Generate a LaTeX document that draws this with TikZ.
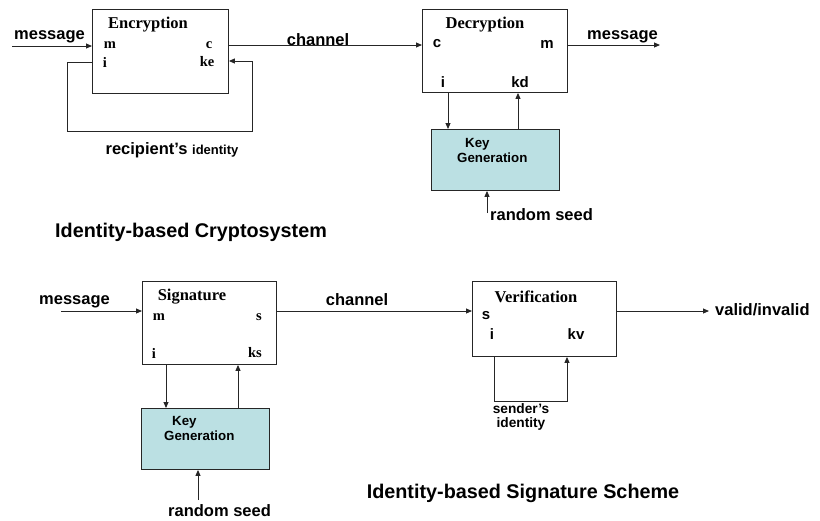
\documentclass[tikz,border=0pt]{standalone}
\usepackage{fontspec}
\setmainfont{Liberation Serif}
\setsansfont{Liberation Sans}
\usetikzlibrary{arrows.meta}
\definecolor{kgfill}{HTML}{BBE0E3}
\begin{document}
\begin{tikzpicture}[x=1pt,y=-1pt,
  ln/.style={draw=black!85,line width=0.9pt},
  arr/.style={ln,-{Triangle[length=6pt,width=5pt]}},
  blk/.style={ln,fill=white,inner sep=0pt,anchor=north west},
  kgbox/.style={ln,fill=kgfill,inner sep=0pt,anchor=north west},
  ttl/.style={font=\fontsize{16.5}{18}\selectfont\bfseries\rmfamily,inner sep=0pt},
  sv/.style={font=\fontsize{14.5}{15}\selectfont\bfseries\rmfamily,inner sep=0pt},
  ss/.style={font=\fontsize{15}{16}\selectfont\bfseries\sffamily,inner sep=0pt},
  lbl/.style={font=\fontsize{16.5}{18}\selectfont\bfseries\sffamily,inner sep=0pt},
  kgt/.style={font=\fontsize{13.3}{15}\selectfont\bfseries\sffamily,inner sep=0pt,align=left,anchor=north west},
  big/.style={font=\fontsize{19.8}{22}\selectfont\bfseries\sffamily,inner sep=0pt}]
\useasboundingbox (0,0) rectangle (820,520);
% ---------------- Top: Identity-based Cryptosystem
\node[blk,minimum width=136pt,minimum height=84pt] (enc) at (92,9) {};
\node[blk,minimum width=145pt,minimum height=83pt] (dec) at (422,9) {};
\node[kgbox,minimum width=128pt,minimum height=61pt] (kg1) at (431,129) {};
\node[ttl] (enct) at (148,25) {Encryption};
\node[sv] (encm) at (110,45) {m};
\node[sv] (encc) at (209,45) {c};
\node[sv] (enci) at (105,62) {i};
\node[sv] (encke) at (207,62) {ke};
\node[ttl] (dect) at (485,25) {Decryption};
\node[ss] (decc) at (437,44) {c};
\node[ss] (decm) at (547,44) {m};
\node[ss] (deci) at (443,82) {i};
\node[ss] (deckd) at (520,82) {kd};
\node[kgt] (kg1t) at (457,138) {\hspace{8pt}Key\\Generation};
\node[lbl,anchor=west] (msg1) at (14,37) {message};
\node[lbl] (chan1) at (318,40) {channel};
\node[lbl,anchor=west] (msg2) at (587,37) {message};
\node[lbl,anchor=west] (rs1) at (490,215) {random seed};
\node[inner sep=0pt] (rid) at (172,150) {\fontsize{16.5}{18}\selectfont\bfseries\sffamily recipient's {\fontsize{13}{14}\selectfont identity}};
\node[big,anchor=west] (title1) at (55,232) {Identity-based Cryptosystem};
\coordinate (m1s) at (12,46);
\draw[arr] (m1s) -- (m1s -| enc.west);
\draw[arr] (enc.west |- 0,62) -- (67,62) -- (67,131) -- (252,131) -- (252,61) -- (enc.east |- 0,61);
\draw[arr] (enc.east |- 0,45) -- (dec.west |- 0,45);
\coordinate (m2e) at (660,45);
\draw[arr] (dec.east |- m2e) -- (m2e);
\draw[arr] (dec.south -| 448,0) -- (kg1.north -| 448,0);
\draw[arr] (kg1.north -| 518,0) -- (dec.south -| 518,0);
\coordinate (rs1s) at (487,213);
\draw[arr] (rs1s) -- (kg1.south -| rs1s);
% ---------------- Bottom: Identity-based Signature Scheme
\node[blk,minimum width=134pt,minimum height=83pt] (sig) at (142,281) {};
\node[blk,minimum width=144pt,minimum height=75pt] (ver) at (472,281) {};
\node[kgbox,minimum width=128pt,minimum height=61pt] (kg2) at (141,408) {};
\node[ttl] (sigt) at (192,297) {Signature};
\node[sv] (sigm) at (159,317) {m};
\node[sv] (sigs) at (259,317) {s};
\node[sv] (sigi) at (154,353) {i};
\node[sv] (sigks) at (255,353) {ks};
\node[ttl] (vert) at (536,297) {Verification};
\node[ss] (vers) at (486,316) {s};
\node[ss] (veri) at (492,334) {i};
\node[ss] (verkv) at (576,334) {kv};
\node[kgt] (kg2t) at (164,416) {\hspace{8pt}Key\\Generation};
\node[lbl,anchor=west] (msg3) at (39,302) {message};
\node[lbl] (chan2) at (357,300) {channel};
\node[lbl,anchor=west] (vi) at (715,310) {valid/invalid};
\node[lbl,anchor=west] (rs2) at (168,511) {random seed};
\node[font=\fontsize{13.7}{14}\selectfont\bfseries\sffamily,inner sep=0pt,align=center] (sid) at (521,417) {sender's\\identity};
\node[big] (title2) at (523,493) {Identity-based Signature Scheme};
\coordinate (m3s) at (61,311);
\draw[arr] (m3s) -- (m3s -| sig.west);
\draw[arr] (sig.east |- 0,311) -- (ver.west |- 0,311);
\coordinate (vie) at (709,311);
\draw[arr] (ver.east |- vie) -- (vie);
\draw[arr] (sig.south -| 166,0) -- (kg2.north -| 166,0);
\draw[arr] (kg2.north -| 238,0) -- (sig.south -| 238,0);
\coordinate (rs2s) at (198,500);
\draw[arr] (rs2s) -- (kg2.south -| rs2s);
\draw[arr] (ver.south -| 494,0) -- (494,401) -- (567,401) -- (ver.south -| 567,0);
\end{tikzpicture}
\end{document}
